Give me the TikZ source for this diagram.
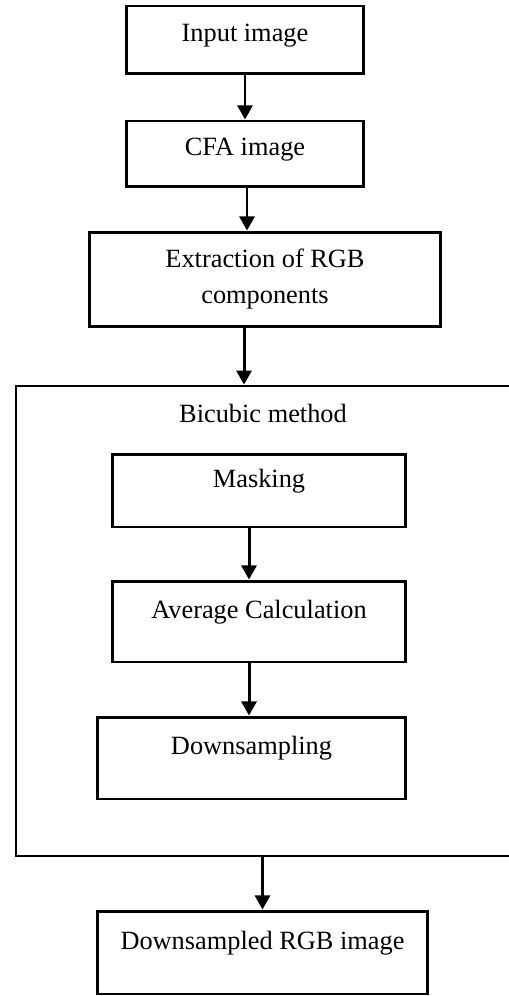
\documentclass[tikz,border=0pt]{standalone}
\usepackage{fontspec}
\setmainfont{Liberation Serif}
\usetikzlibrary{arrows.meta}

\tikzset{
	stepbox/.style={draw, line width=1.7pt, align=center, inner sep=0pt,
		font=\fontsize{15}{20.5}\selectfont},
	toptext/.style={text depth=14pt},
	flow/.style={-{Triangle[length=8pt,width=8.5pt]}, line width=1.7pt},
}

\begin{document}
\begin{tikzpicture}[x=0.02cm, y=-0.02cm]
	\useasboundingbox (0,0) rectangle (509,996);
	\clip (0,0) rectangle (509,996);

	\node[stepbox, minimum width=4.76cm, minimum height=1.36cm, text depth=8pt] (input) at (245,40) {Input image};
	\node[stepbox, minimum width=4.76cm, minimum height=1.32cm, text depth=8pt] (cfa) at (245,154) {CFA image};
	\node[stepbox, minimum width=7.04cm, minimum height=1.9cm] (extract) at (265,279.5) {Extraction of RGB\\components};

	% bicubic block, runs off the right edge
	\node[draw, line width=1.6pt, minimum width=10cm, minimum height=9.4cm] (bicubic) at (266,621) {};
	\node[anchor=base, inner sep=0pt, font=\fontsize{15}{20.5}\selectfont] (bictitle) at (263,422) {Bicubic method};

	\node[stepbox, toptext, minimum width=5.88cm, minimum height=1.46cm] (mask) at (259,490.5) {Masking};
	\node[stepbox, toptext, minimum width=5.88cm, minimum height=1.62cm] (avg) at (259,621.5) {Average Calculation};
	\node[stepbox, toptext, minimum width=6.18cm, minimum height=1.64cm] (down) at (251.5,758) {Downsampling};

	\node[stepbox, toptext, minimum width=6.62cm, minimum height=1.66cm] (result) at (262.5,952.5) {Downsampled RGB image};

	\coordinate (e1) at ([xshift=-0.42cm]extract.south);
	\coordinate (m1) at ([xshift=-0.2cm]mask.south);
	\coordinate (a1) at ([xshift=-0.2cm]avg.south);

	\draw[flow] (input.south) -- (cfa.north);
	\draw[flow] ([xshift=0.04cm]cfa.south) -- ([xshift=0.04cm]cfa.south |- extract.north);
	\draw[flow] (e1) -- (e1 |- bicubic.north);
	\draw[flow] (m1) -- (m1 |- avg.north);
	\draw[flow] (a1) -- (a1 |- down.north);
	\draw[flow] (result.north |- bicubic.south) -- (result.north);
\end{tikzpicture}
\end{document}
